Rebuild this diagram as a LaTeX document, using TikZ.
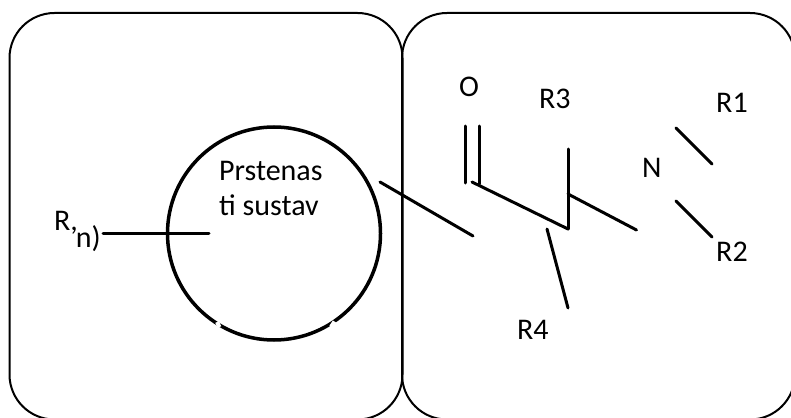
\documentclass[tikz,border=0pt]{standalone}
\usepackage{fontspec}
\setmainfont{Carlito}
\tikzset{
  x=1pt,y=-1pt,
  panel/.style={draw=black,line width=2pt,rounded corners=45pt,inner sep=0pt,minimum width=393pt,minimum height=406.5pt},
  ring/.style={circle,draw=black,line width=3.5pt,inner sep=0pt,minimum size=213pt},
  bond/.style={draw=black,line width=3pt,line cap=round},
  gapline/.style={draw=white,line width=4pt},
  lbl/.style={inner sep=0pt,font=\fontsize{30}{35}\selectfont,text=black,anchor=base west}
}
\begin{document}
\begin{tikzpicture}
\useasboundingbox (0,0) rectangle (791,417);
\node[panel] (left) at (206,216.25) {};
\node[panel] (right) at (598.5,216.25) {};
\node[ring] (ringc) at (274,233.5) {};
\coordinate (g1a) at (217,322); \coordinate (g1b) at (219.5,327);
\coordinate (g2a) at (331,327); \coordinate (g2b) at (334.5,321.5);
\draw[gapline] (g1a) -- (g1b);
\draw[gapline] (g2a) -- (g2b);
\node[lbl] (rlabel) at (54,230) {R,\kern-2pt\raisebox{-17pt}{n)}};
\node[lbl,align=left,anchor=north west] (ringtext) at (219,161) {Prstenas\\ti sustav};
\node[lbl] (o) at (459,97) {O};
\node[lbl] (r3) at (539,109) {R3};
\node[lbl] (r1) at (716,113) {R1};
\node[lbl] (n) at (642,177) {N};
\node[lbl] (r2) at (716,261) {R2};
\node[lbl] (r4) at (517,339) {R4};
\coordinate (a1) at (103,233.5); \coordinate (a2) at (209,233.5);
\coordinate (b1) at (380,182); \coordinate (b2) at (473,236);
\coordinate (c1) at (465.7,126); \coordinate (c2) at (465.7,183);
\coordinate (d1) at (479.7,126); \coordinate (d2) at (479.7,184);
\coordinate (e1) at (472,182); \coordinate (e2) at (568,229);
\coordinate (f1) at (568,149);
\coordinate (h1) at (568,194); \coordinate (h2) at (636.5,230);
\coordinate (i1) at (547,229); \coordinate (i2) at (568,308);
\coordinate (j1) at (676,128); \coordinate (j2) at (712,164);
\coordinate (k1) at (676,201); \coordinate (k2) at (712,237);
\draw[bond] (a1) -- (a2);
\draw[bond] (b1) -- (b2);
\draw[bond] (c1) -- (c2);
\draw[bond] (d1) -- (d2);
\draw[bond] (e1) -- (e2);
\draw[bond] (f1) -- (e2);
\draw[bond] (h1) -- (h2);
\draw[bond] (i1) -- (i2);
\draw[bond] (j1) -- (j2);
\draw[bond] (k1) -- (k2);
\end{tikzpicture}
\end{document}
